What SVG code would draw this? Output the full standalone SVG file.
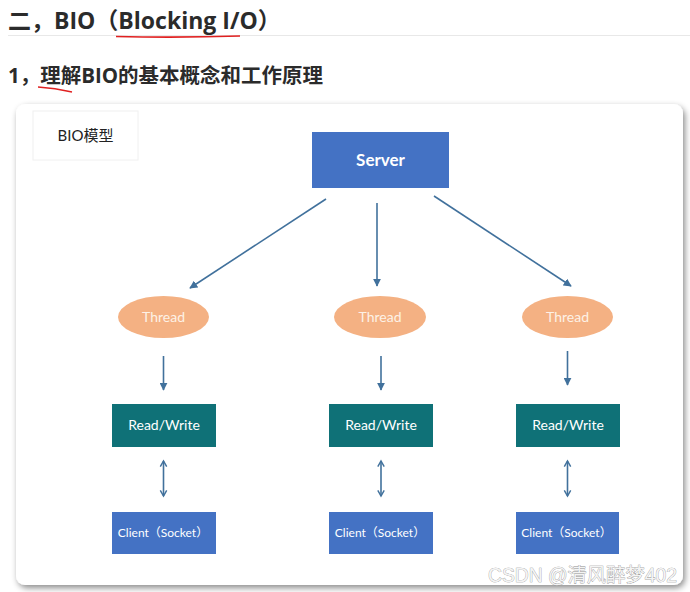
<svg xmlns="http://www.w3.org/2000/svg" width="690" height="592" viewBox="0 0 690 592">
<defs>
<style>
.hdr{font-family:"Open Sans","Noto Sans CJK SC",sans-serif;font-weight:bold;fill:#2b2b2b}
.lbl{font-family:Lato,"Open Sans","Noto Sans CJK SC",sans-serif}
.conn{stroke:#41719C;stroke-width:1.6;fill:none}
.srv{fill:#4472C4}
.thr{fill:#F4B183}
.rw{fill:#0F7177}
.cli{fill:#4472C4}
</style>
<marker id="ah" viewBox="0 0 10 10" refX="9" refY="5" markerWidth="5" markerHeight="5" orient="auto-start-reverse">
<path d="M0,0 L10,5 L0,10 z" fill="#41719C"/>
</marker>
<marker id="ch" viewBox="0 0 10 10" refX="8" refY="5" markerWidth="5" markerHeight="6" orient="auto-start-reverse">
<path d="M1,1 L8,5 L1,9" fill="none" stroke="#41719C" stroke-width="1.8"/>
</marker>
<filter id="sh" x="-5%" y="-5%" width="115%" height="115%">
<feDropShadow dx="2" dy="3" stdDeviation="3" flood-color="#000" flood-opacity="0.45"/>
</filter>
</defs>
<rect width="690" height="592" fill="#ffffff"/>
<g id="header">
<text class="hdr" x="8" y="29" font-size="23">二，BIO（Blocking I/O）</text>
<line x1="8" y1="35.5" x2="690" y2="35.5" stroke="#e8e8e8" stroke-width="1"/>
<path d="M116,36.5 Q178,38 240,36" stroke="#e02020" stroke-width="1.6" fill="none"/>
<text class="hdr" x="8" y="83" font-size="20.5">1，理解BIO的基本概念和工作原理</text>
<path d="M38,87 Q55,88 72,92" stroke="#e02020" stroke-width="1.4" fill="none"/>
</g>
<g id="card">
<rect x="16" y="104" width="667" height="481" rx="9" fill="#ffffff" filter="url(#sh)"/>
</g>
<g id="title">
<rect x="33" y="111" width="105" height="49" fill="#fff" stroke="#f0f0f0" stroke-width="1"/>
<text class="lbl" x="85.5" y="141" font-size="15" text-anchor="middle" fill="#222">BIO模型</text>
</g>
<g id="connectors">
<line class="conn" x1="326" y1="199" x2="190" y2="288" marker-end="url(#ah)"/>
<line class="conn" x1="377" y1="203" x2="377" y2="286" marker-end="url(#ah)"/>
<line class="conn" x1="434" y1="196" x2="571" y2="286" marker-end="url(#ah)"/>
<line class="conn" x1="163.5" y1="356" x2="163.5" y2="390" marker-end="url(#ah)"/>
<line class="conn" x1="381" y1="356" x2="381" y2="390" marker-end="url(#ah)"/>
<line class="conn" x1="567.5" y1="351" x2="567.5" y2="385" marker-end="url(#ah)"/>
<line class="conn" x1="163.5" y1="461" x2="163.5" y2="496" marker-start="url(#ch)" marker-end="url(#ch)"/>
<line class="conn" x1="381" y1="461" x2="381" y2="496" marker-start="url(#ch)" marker-end="url(#ch)"/>
<line class="conn" x1="567.5" y1="461" x2="567.5" y2="496" marker-start="url(#ch)" marker-end="url(#ch)"/>
</g>
<g id="server">
<rect class="srv" x="312" y="132" width="137" height="56"/>
<text class="lbl" x="380.5" y="166" font-size="17" font-weight="bold" text-anchor="middle" fill="#fff">Server</text>
</g>
<g id="thread1">
<ellipse class="thr" cx="163.5" cy="317" rx="45.5" ry="21"/>
<text class="lbl" x="163.5" y="322" font-size="14" text-anchor="middle" fill="#fdf1e6">Thread</text>
</g>
<g id="thread2">
<ellipse class="thr" cx="380" cy="317" rx="46" ry="21"/>
<text class="lbl" x="380" y="322" font-size="14" text-anchor="middle" fill="#fdf1e6">Thread</text>
</g>
<g id="thread3">
<ellipse class="thr" cx="567.5" cy="317" rx="45.5" ry="21"/>
<text class="lbl" x="567.5" y="322" font-size="14" text-anchor="middle" fill="#fdf1e6">Thread</text>
</g>
<g id="rw1">
<rect class="rw" x="112" y="404" width="104" height="43"/>
<text class="lbl" x="164" y="430" font-size="14" text-anchor="middle" fill="#fff">Read/Write</text>
</g>
<g id="rw2">
<rect class="rw" x="329" y="404" width="104" height="43"/>
<text class="lbl" x="381" y="430" font-size="14" text-anchor="middle" fill="#fff">Read/Write</text>
</g>
<g id="rw3">
<rect class="rw" x="516" y="404" width="104" height="43"/>
<text class="lbl" x="568" y="430" font-size="14" text-anchor="middle" fill="#fff">Read/Write</text>
</g>
<g id="client1">
<rect class="cli" x="112" y="512" width="104" height="42"/>
<text class="lbl" x="163" y="537" font-size="12" text-anchor="middle" fill="#fff">Client（Socket）</text>
</g>
<g id="client2">
<rect class="cli" x="329" y="512" width="104" height="42"/>
<text class="lbl" x="380" y="537" font-size="12" text-anchor="middle" fill="#fff">Client（Socket）</text>
</g>
<g id="client3">
<rect class="cli" x="516" y="512" width="103" height="42"/>
<text class="lbl" x="566.5" y="537" font-size="12" text-anchor="middle" fill="#fff">Client（Socket）</text>
</g>
<g id="watermark">
<text x="488" y="582" font-size="19.3" font-family="'Liberation Sans','Noto Sans CJK SC',sans-serif" fill="#f4f4f4" stroke="#8a8a8a" stroke-width="0.6" paint-order="stroke">CSDN @清风醉梦402</text>
</g>
</svg>
